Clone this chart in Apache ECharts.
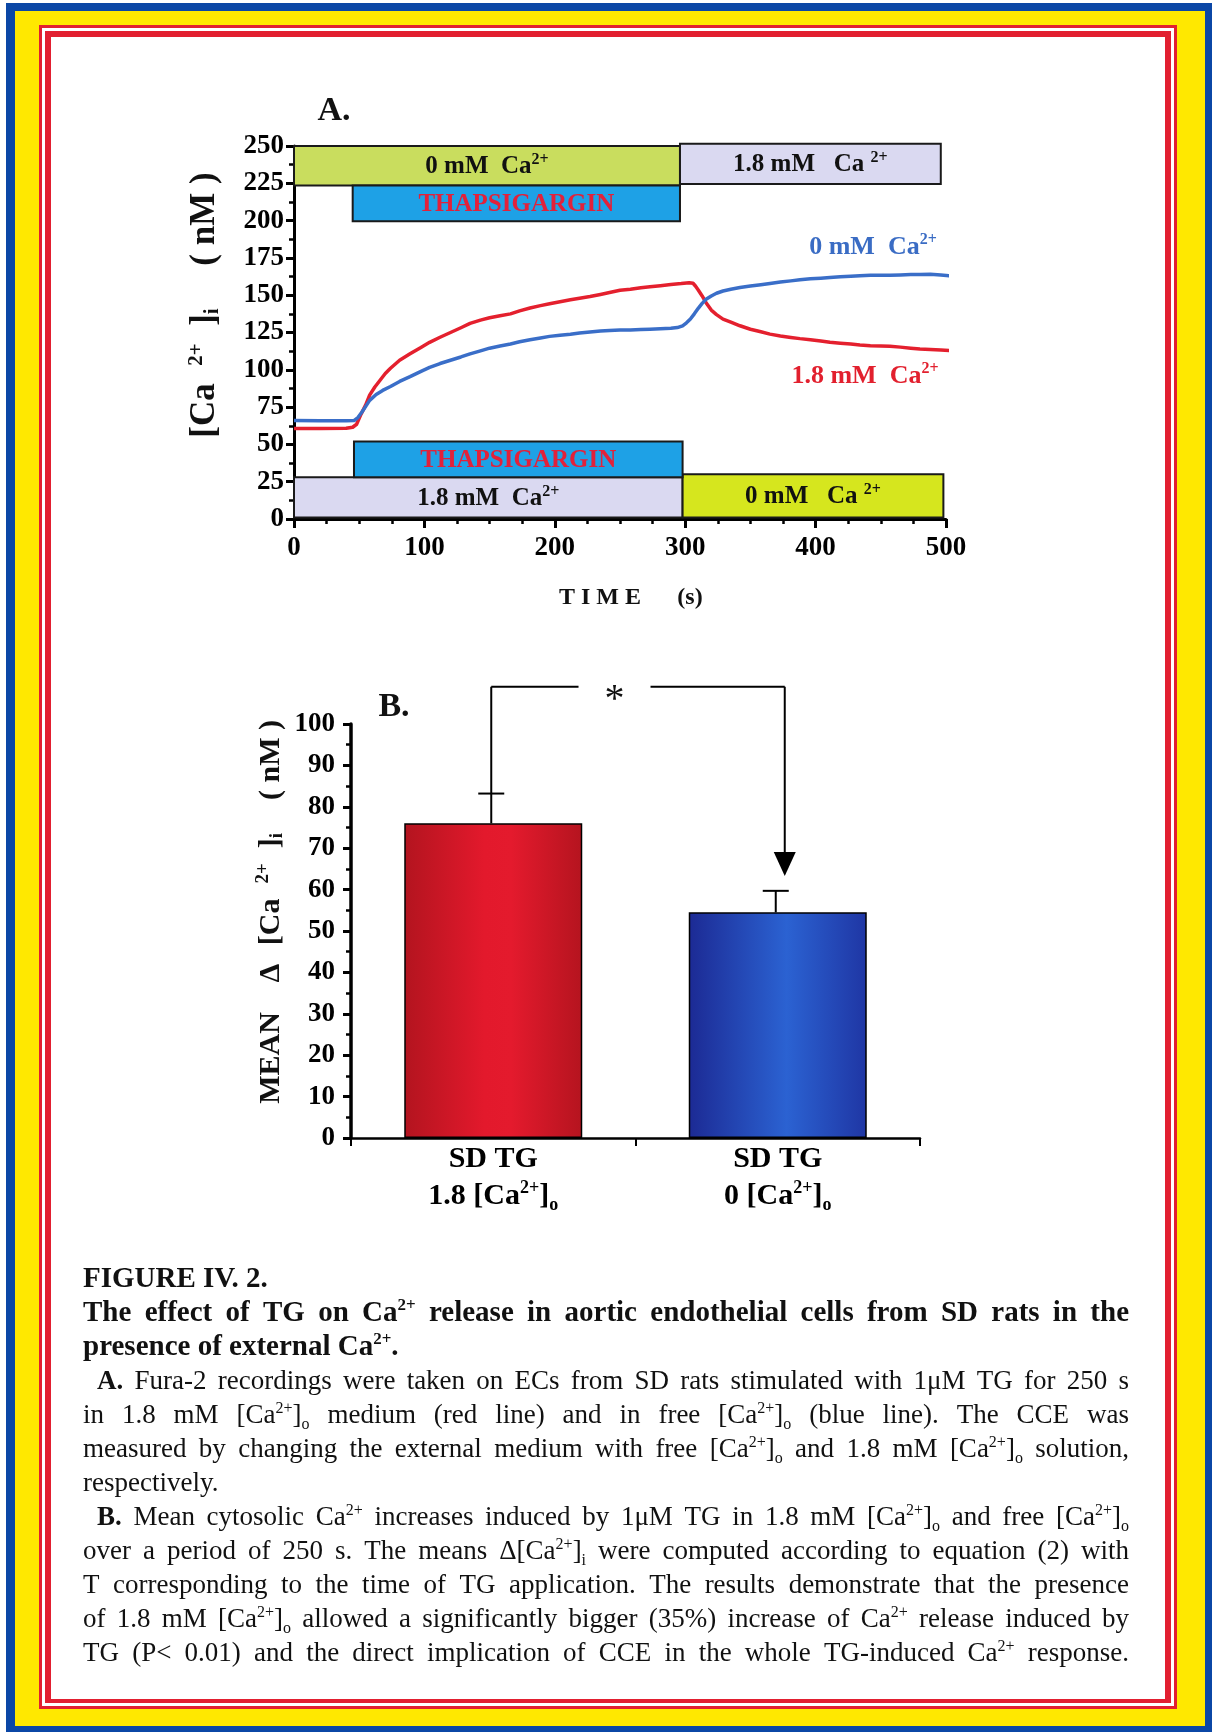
<!DOCTYPE html>
<html><head><meta charset="utf-8">
<script src="https://cdn.jsdelivr.net/npm/echarts@6/dist/echarts.min.js"></script>
<style>html,body{margin:0;padding:0;background:#fff}#c{width:1212px;height:1732px}</style>
</head><body><div id="c"></div>
<script>
// ---------------- Panel A data ----------------
const redTime = [0,20,40,45,48,51,55,58,62,66,70,74,81,89,97,104,112,120,128,135,143,150,158,166,173,181,189,196,204,212,219,227,235,242,250,258,266,273,281,289,297,303,306,308,310,313,316,320,324,329,335,342,350,358,365,373,381,388,396,404,411,419,427,434,442,450,457,465,473,480,488,496,504];
const redCa = [60.7,60.7,60.8,61.5,63.5,69.5,76.5,83,88.5,93,97.5,101,106.4,110.7,114.8,118.4,121.8,125,128.2,131.1,133.3,134.9,136.2,137.5,139.5,141.4,143,144.3,145.6,146.9,148,149.1,150.5,151.8,153.3,154,155,155.7,156.4,157.2,157.8,158.4,158,156,153.5,149.5,145,140,137,134,132,129.5,127.2,125.5,123.9,122.7,121.7,120.9,120.2,119.3,118.4,117.8,117.3,116.7,116.2,116,115.8,115.2,114.5,114,113.6,113.2,112.9];
const blueTime = [0,20,40,46,49,52,55,58,63,68,74,81,89,97,104,112,120,128,135,143,150,158,166,173,181,189,196,204,212,219,227,235,242,250,258,266,273,281,289,294,298,301,304,307,310,313,316,320,324,329,335,342,350,358,365,373,381,388,396,404,411,419,427,434,442,450,457,465,473,480,488,496,504];
const blueCa = [66,65.8,65.8,66,68,71.5,75.5,79.5,83.5,86.2,88.8,92.2,95.4,98.8,101.6,104.2,106.4,108.6,110.7,112.7,114.5,116,117.3,118.8,120.2,121.3,122.4,123.2,123.9,124.7,125.4,126,126.3,126.6,126.7,127,127.2,127.5,127.8,128.3,129.5,131.5,134,137.5,141.2,144.5,147.3,149.5,151.3,152.8,154,155.1,156.1,157,157.9,158.8,159.6,160.4,161,161.4,161.8,162.3,162.7,163.1,163.4,163.4,163.4,163.6,163.8,163.9,164,163.5,162.9];
// experimental condition bars (time range, value range on the axis)
const condStart = [0, 296, 45, 0, 298, 46];
const condEnd   = [296, 496, 296, 298, 498, 298];
const condLow   = [223.5, 224.5, 199.5, 1, 1, 28];
const condHigh  = [250, 251.5, 223.5, 28, 30, 52];
const condLabel = ['0 mM  Ca{s|2+}', '1.8 mM   Ca {s|2+}', 'THAPSIGARGIN', '1.8 mM  Ca{s|2+}', '0 mM   Ca {s|2+}', 'THAPSIGARGIN'];
const condKind  = ['zero', 'high', 'tg', 'high', 'zero2', 'tg'];

// ---------------- Panel B data ----------------
const barCats = ['SD TG\n1.8 [Ca{s|2+}]{o|o}', 'SD TG\n0 [Ca{s|2+}]{o|o}'];
const barMean = [76, 54.5];
const barSEM  = [7.2, 5.2];
const bracketTop = 109;
const arrowTip = 63.3;

// ---------------- Caption ----------------
const captionLines = [
  'FIGURE IV. 2.',
  'The effect of TG on Ca{hs|2+} release in aortic endothelial cells from SD rats in the',
  'presence of external Ca{hs|2+}.',
  '{hb|A.}  Fura-2 recordings were taken on ECs from SD rats stimulated with 1μM TG for 250 s',
  'in 1.8 mM [Ca{s|2+}]{o|o} medium (red line) and in free [Ca{s|2+}]{o|o} (blue line). The CCE was',
  'measured by changing the external medium with free [Ca{s|2+}]{o|o} and 1.8 mM [Ca{s|2+}]{o|o} solution,',
  'respectively.',
  '{hb|B.} Mean cytosolic Ca{s|2+} increases induced by 1μM TG in 1.8 mM [Ca{s|2+}]{o|o} and free [Ca{s|2+}]{o|o}',
  'over a period of 250 s. The means Δ[Ca{s|2+}]{o|i} were computed according to equation (2) with',
  'T corresponding to the time of TG application. The results demonstrate that the presence',
  'of 1.8 mM [Ca{s|2+}]{o|o} allowed a significantly bigger (35%) increase of Ca{s|2+} release induced by',
  'TG (P< 0.01) and the direct implication of CCE in the whole TG-induced Ca{s|2+} response.'
];
const captionBold    = [true,true,true,false,false,false,false,false,false,false,false,false];
const captionJustify = [false,true,false,true,true,true,false,true,true,true,true,true];
const captionIndent  = [0,0,0,14,0,0,0,14,0,0,0,0];

// ---------------- styles ----------------
const SERIF = 'Liberation Serif';
const condFill = {zero:'#c9dd5e', zero2:'#d6e61e', high:'#dad9f1', tg:'#1ea1e6'};

function rs(size, weight, pad) {
  const o = {fontSize:size, fontFamily:SERIF, fontWeight:weight};
  if (pad) o.padding = pad;
  return o;
}
const condRich = {s: rs(16,'bold',[0,0,14,0])};
const bodyRich = {s: rs(16,'normal',[0,0,15,0]), o: rs(16,'normal',[17,0,0,0]), hb: rs(27,'bold')};
const headRich = {hs: rs(17,'bold',[0,0,16,0])};

// wrap plain parts of a rich string into a named style so the font is always explicit
function wrapPlain(str, key) {
  return String(str).split('\n').map(line => line.split(/(\{\w+\|[^}]*\})/).filter(p => p)
    .map(p => p.charAt(0) === '{' ? p : '{' + key + '|' + p + '}').join('')).join('\n');
}

const mctx = document.createElement('canvas').getContext('2d');
function fstr(r){ return (r.fontWeight||'normal') + ' ' + r.fontSize + 'px "' + r.fontFamily + '"'; }
function measureRich(str, base, rich) {
  let w = 0, last = 0, m;
  const re = /\{(\w+)\|([^}]*)\}/g;
  while ((m = re.exec(str))) {
    if (m.index > last) { mctx.font = fstr(base); w += mctx.measureText(str.slice(last, m.index)).width; }
    mctx.font = fstr(rich[m[1]]); w += mctx.measureText(m[2]).width;
    last = re.lastIndex;
  }
  if (last < str.length) { mctx.font = fstr(base); w += mctx.measureText(str.slice(last)).width; }
  return w;
}

const graphics = [];
// frame
[[6,3,1206,1729,'#0b47a6'],[15,11,1190,1715,'#ffe800'],[39,25,1138,1684,'#e21f30'],
 [42,28,1132,1678,'#ffffff'],[45,31,1126,1672,'#e21f30'],[51,37,1114,1662,'#ffffff']].forEach(r => {
  graphics.push({type:'rect', z:-100, silent:true, shape:{x:r[0], y:r[1], width:r[2], height:r[3]}, style:{fill:r[4]}});
});
function txt(x, y, text, size, opts) {
  opts = opts || {};
  const st = {text:text, fontSize:size, fontFamily:SERIF, fontWeight:opts.weight||'bold', fill:opts.color||'#111',
    align:opts.align||'center', textAlign:opts.align||'center', verticalAlign:'middle', textVerticalAlign:'middle'};
  if (opts.rich) st.rich = opts.rich;
  const el = {type:'text', x:x, y:y, z:10, silent:true, style:st};
  if (opts.rotation) el.rotation = opts.rotation;
  graphics.push(el);
}
const titleRich = {s: rs(21,'bold',[0,0,17,0]), i: rs(21,'bold',[15,0,0,0])};
const titleRichB = {s: rs(19,'bold',[0,0,15,0]), i: rs(19,'bold',[13,0,0,0])};
const lineRich = {s: rs(16,'bold',[0,0,14,0])};
txt(334, 111, 'A.', 34);
txt(394, 707, 'B.', 34);
txt(205, 373, '[Ca  {s|2+}  ]{i|i}', 35, {rich:titleRich, rotation:Math.PI/2});
txt(205, 219, '( nM )', 35, {rotation:Math.PI/2});
txt(271, 1058, 'MEAN', 30, {rotation:Math.PI/2});
txt(271, 973, 'Δ', 30, {rotation:Math.PI/2});
txt(271, 889, '[Ca  {s|2+}  ]{i|i}', 30, {rich:titleRichB, rotation:Math.PI/2});
txt(271, 760, '( nM )', 30, {rotation:Math.PI/2});
txt(600, 598, 'T I M E', 24);
txt(690, 598, '(s)', 24);
txt(873, 247, '0 mM  Ca{s|2+}', 26, {rich:lineRich, color:'#3a6cc4'});
txt(865, 376, '1.8 mM  Ca{s|2+}', 26, {rich:lineRich, color:'#e2202e'});

// caption, justified word by word
const capY0 = 1280, capStep = 34, capLeft = 83, capRight = 1129;
captionLines.forEach((line, li) => {
  const bold = captionBold[li];
  const base = bold ? rs(29,'bold') : rs(27,'normal');
  const rich = bold ? headRich : bodyRich;
  const words = line.split(/\s+/);
  const widths = words.map(w => measureRich(w, base, rich));
  const sum = widths.reduce((a,b)=>a+b, 0);
  mctx.font = fstr(base);
  const sp = mctx.measureText(' ').width;
  const x0 = capLeft + captionIndent[li];
  const gap = (captionJustify[li] && words.length > 1) ? (capRight - x0 - sum) / (words.length - 1) : sp;
  let x = x0;
  const y = capY0 + li * capStep;
  words.forEach((w, wi) => {
    graphics.push({type:'text', x:x, y:y, z:10, silent:true, style:{text:w, rich:rich, fontSize:base.fontSize,
      fontFamily:SERIF, fontWeight:base.fontWeight, fill:'#111', align:'left', textAlign:'left', verticalAlign:'middle', textVerticalAlign:'middle'}});
    x += widths[wi] + gap;
  });
});

const axisCommon = (w) => ({
  axisLine:{show:true, onZero:false, lineStyle:{color:'#000', width:w}},
  splitLine:{show:false}
});
const gradRed = {type:'linear', x:0, y:0, x2:1, y2:0, colorStops:[
  {offset:0, color:'#b3141f'},{offset:0.45, color:'#e3192c'},{offset:0.6, color:'#e41a2d'},{offset:1, color:'#b5141f'}]};
const gradBlue = {type:'linear', x:0, y:0, x2:1, y2:0, colorStops:[
  {offset:0, color:'#1c2a94'},{offset:0.55, color:'#2b62d2'},{offset:1, color:'#1f36a4'}]};

const numLabel = (size, margin) => ({margin:margin, fontFamily:SERIF, fontWeight:'bold', fontSize:size, color:'#000',
  formatter: v => '{n|' + v + '}', rich:{n: rs(size,'bold')}});
const chart = echarts.init(document.getElementById('c'), null, {renderer:'canvas'});
chart.setOption({
  animation:false,
  backgroundColor:'transparent',
  textStyle:{fontFamily:SERIF},
  graphic:{elements:graphics},
  grid:[
    {left:294, top:146, width:652, height:373, outerBoundsMode:'none', containLabel:false},
    {left:351, top:724, width:569, height:414, outerBoundsMode:'none', containLabel:false}
  ],
  xAxis:[
    Object.assign({type:'value', gridIndex:0, min:0, max:500, interval:100,
      axisTick:{show:true, inside:false, length:9, lineStyle:{color:'#000', width:3}},
      minorTick:{show:true, splitNumber:4, length:5, lineStyle:{color:'#000', width:2.5}},
      axisLabel:numLabel(27, 16)}, axisCommon(3)),
    Object.assign({type:'category', gridIndex:1, data:barCats, boundaryGap:true,
      axisTick:{show:true, inside:false, length:8, alignWithLabel:false, lineStyle:{color:'#000', width:2}},
      axisLabel:{interval:0, margin:3, fontFamily:SERIF, fontWeight:'bold', fontSize:30, color:'#000', lineHeight:37,
        formatter: v => wrapPlain(v, 'b'),
        rich:{b:Object.assign(rs(30,'bold'),{lineHeight:37}),
              s:Object.assign(rs(18,'bold',[0,0,17,0]),{lineHeight:37}),
              o:Object.assign(rs(18,'bold',[17,0,0,0]),{lineHeight:37})}}}, axisCommon(2.5))
  ],
  yAxis:[
    Object.assign({type:'value', gridIndex:0, min:0, max:250, interval:25,
      axisTick:{show:true, inside:false, length:8, lineStyle:{color:'#000', width:3}},
      minorTick:{show:true, splitNumber:2, length:5, lineStyle:{color:'#000', width:2.5}},
      axisLabel:numLabel(27, 10)}, axisCommon(3)),
    Object.assign({type:'value', gridIndex:1, min:0, max:100, interval:10,
      axisTick:{show:true, inside:false, length:8, lineStyle:{color:'#000', width:3}},
      minorTick:{show:true, splitNumber:2, length:5, lineStyle:{color:'#000', width:2.5}},
      axisLabel:numLabel(27, 16)}, axisCommon(3.5))
  ],
  series:[
    {type:'custom', xAxisIndex:0, yAxisIndex:0, clip:false, z:2,
      data: condStart.map((s,i) => [s, condLow[i], condEnd[i], condHigh[i]]),
      renderItem:(params, api) => {
        const i = params.dataIndex, kind = condKind[i];
        const a = api.coord([api.value(0), api.value(3)]);
        const b = api.coord([api.value(2), api.value(1)]);
        return {type:'group', children:[
          {type:'rect', shape:{x:a[0], y:a[1], width:b[0]-a[0], height:b[1]-a[1]}, style:{fill:condFill[kind], stroke:'#1a1a1a', lineWidth:2}},
          {type:'text', style:{text:condLabel[i], rich:condRich, x:(a[0]+b[0])/2, y:(a[1]+b[1])/2+1, align:'center', verticalAlign:'middle',
            fontSize:25, fontFamily:SERIF, fontWeight:'bold', fill: kind==='tg' ? '#e2213a' : '#111'}}
        ]};
      }},
    {type:'line', name:'1.8 mM', xAxisIndex:0, yAxisIndex:0, clip:false, z:3, symbol:'none', smooth:false,
      data: redTime.map((t,i) => [t, redCa[i]]), lineStyle:{color:'#e4202e', width:3.5, join:'round'}},
    {type:'line', name:'0 mM', xAxisIndex:0, yAxisIndex:0, clip:false, z:4, symbol:'none', smooth:false,
      data: blueTime.map((t,i) => [t, blueCa[i]]), lineStyle:{color:'#3a6ec8', width:3.5, join:'round'}},
    {type:'bar', xAxisIndex:1, yAxisIndex:1, barWidth:178, z:2,
      data: barMean.map((v,i) => ({value:v, itemStyle:{color: i===0 ? gradRed : gradBlue, borderColor:'#000', borderWidth:1.5}}))},
    {type:'custom', xAxisIndex:1, yAxisIndex:1, clip:false, z:5,
      data: barMean.map((v,i) => [i, v, v + barSEM[i]]),
      renderItem:(params, api) => {
        const b = api.coord([api.value(0), api.value(1)]);
        const t = api.coord([api.value(0), api.value(2)]);
        return {type:'group', children:[
          {type:'line', shape:{x1:b[0]-2, y1:b[1], x2:t[0]-2, y2:t[1]}, style:{stroke:'#000', lineWidth:2}},
          {type:'line', shape:{x1:t[0]-15, y1:t[1], x2:t[0]+11, y2:t[1]}, style:{stroke:'#000', lineWidth:2}}
        ]};
      }},
    {type:'custom', xAxisIndex:1, yAxisIndex:1, clip:false, z:5,
      data: [[0, barMean[0] + barSEM[0], 1, bracketTop, arrowTip]],
      renderItem:(params, api) => {
        const a = api.coord([api.value(0), api.value(1)]);
        const b = api.coord([api.value(0), api.value(3)]);
        const c = api.coord([api.value(2), api.value(3)]);
        const d = api.coord([api.value(2), api.value(4)]);
        const lx = a[0]-2, rx = c[0]+7;
        const gc = lx + 0.42*(rx-lx);
        const st = {stroke:'#000', lineWidth:2};
        return {type:'group', children:[
          {type:'line', shape:{x1:lx, y1:a[1], x2:lx, y2:b[1]}, style:st},
          {type:'line', shape:{x1:lx, y1:b[1], x2:gc-36, y2:b[1]}, style:st},
          {type:'line', shape:{x1:gc+36, y1:b[1], x2:rx, y2:b[1]}, style:st},
          {type:'line', shape:{x1:rx, y1:b[1], x2:rx, y2:d[1]-20}, style:st},
          {type:'polygon', shape:{points:[[rx-11, d[1]-24],[rx+11, d[1]-24],[rx, d[1]]]}, style:{fill:'#000'}},
          {type:'text', style:{text:'*', x:gc, y:b[1]+14, align:'center', verticalAlign:'middle', fontSize:40, fontFamily:SERIF, fontWeight:'normal', fill:'#111'}}
        ]};
      }}
  ]
});
</script></body></html>
